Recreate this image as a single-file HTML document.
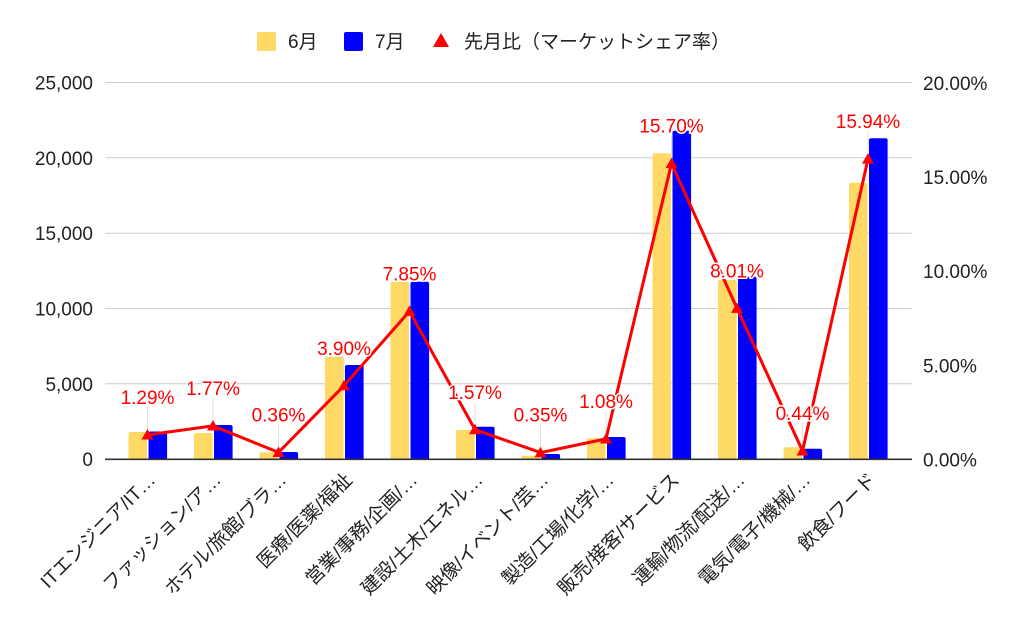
<!DOCTYPE html>
<html>
<head>
<meta charset="utf-8">
<style>
  html, body { margin:0; padding:0; background:#fff; }
  svg { display:block; }
  text { font-family: "Liberation Sans", "Noto Sans CJK JP", sans-serif; }
</style>
</head>
<body>
<svg width="1024" height="633" viewBox="0 0 1024 633" xmlns="http://www.w3.org/2000/svg">
  <rect x="0" y="0" width="1024" height="633" fill="#fff"/>

  <!-- Legend -->
  <rect x="257" y="32" width="19" height="19" rx="2" fill="#ffd966"/>
  <text x="288" y="48" font-size="19" fill="#222">6月</text>
  <rect x="344" y="32" width="19" height="19" rx="2" fill="#0000ff"/>
  <text x="375" y="48" font-size="19" fill="#222">7月</text>
  <polygon points="433,47 449,47 441,33" fill="#ff0000"/>
  <text x="464" y="48" font-size="19" fill="#222">先月比（マーケットシェア率）</text>

  <!-- Gridlines -->
  <g stroke="#cccccc" stroke-width="1">
    <line x1="105" y1="82.5" x2="912" y2="82.5"/>
    <line x1="105" y1="157.8" x2="912" y2="157.8"/>
    <line x1="105" y1="233.2" x2="912" y2="233.2"/>
    <line x1="105" y1="308.5" x2="912" y2="308.5"/>
    <line x1="105" y1="383.8" x2="912" y2="383.8"/>
  </g>

  <!-- Left axis labels -->
  <g font-size="19" fill="#222" text-anchor="end">
    <text x="93" y="89.5">25,000</text>
    <text x="93" y="164.8">20,000</text>
    <text x="93" y="240.2">15,000</text>
    <text x="93" y="315.5">10,000</text>
    <text x="93" y="390.8">5,000</text>
    <text x="93" y="466.2">0</text>
  </g>

  <!-- Right axis labels -->
  <g font-size="19" fill="#222">
    <text x="923" y="90">20.00%</text>
    <text x="923" y="184.1">15.00%</text>
    <text x="923" y="278.2">10.00%</text>
    <text x="923" y="372.3">5.00%</text>
    <text x="923" y="466.4">0.00%</text>
  </g>

  <!-- Bars -->
  <defs>
    <clipPath id="plot"><rect x="100" y="60" width="820" height="399.3"/></clipPath>
  </defs>
  <g clip-path="url(#plot)">
    <g fill="#ffd966">
      <rect x="128.5" y="432" width="18.6" height="40" rx="2"/>
      <rect x="194" y="433" width="18.6" height="40" rx="2"/>
      <rect x="259.5" y="452.3" width="18.6" height="20" rx="2"/>
      <rect x="325" y="356.7" width="18.6" height="120" rx="2"/>
      <rect x="390.5" y="281.7" width="18.6" height="190" rx="2"/>
      <rect x="456" y="430" width="18.6" height="40" rx="2"/>
      <rect x="521.5" y="455.7" width="18.6" height="20" rx="2"/>
      <rect x="587" y="438.3" width="18.6" height="40" rx="2"/>
      <rect x="652.5" y="153.3" width="18.6" height="320" rx="2"/>
      <rect x="718" y="280" width="18.6" height="190" rx="2"/>
      <rect x="783.5" y="447.3" width="18.6" height="20" rx="2"/>
      <rect x="849" y="182.7" width="18.6" height="290" rx="2"/>
    </g>
    <g fill="#0000ff">
      <rect x="148.5" y="431.5" width="18.6" height="40" rx="2"/>
      <rect x="214" y="425" width="18.6" height="40" rx="2"/>
      <rect x="279.5" y="452" width="18.6" height="20" rx="2"/>
      <rect x="345" y="365" width="18.6" height="110" rx="2"/>
      <rect x="410.5" y="281.7" width="18.6" height="190" rx="2"/>
      <rect x="476" y="426.7" width="18.6" height="40" rx="2"/>
      <rect x="541.5" y="454" width="18.6" height="20" rx="2"/>
      <rect x="607" y="437" width="18.6" height="40" rx="2"/>
      <rect x="672.5" y="130.7" width="18.6" height="340" rx="2"/>
      <rect x="738" y="276.7" width="18.6" height="190" rx="2"/>
      <rect x="803.5" y="448.7" width="18.6" height="20" rx="2"/>
      <rect x="869" y="138.3" width="18.6" height="330" rx="2"/>
    </g>
  </g>

  <!-- Axis baseline -->
  <line x1="105" y1="459.3" x2="912" y2="459.3" stroke="#333" stroke-width="1.6"/>

  <!-- Leader lines -->
  <g stroke="#e2e2e2" stroke-width="1">
    <line x1="147.5" y1="407" x2="147.5" y2="430"/>
    <line x1="213" y1="398" x2="213" y2="421"/>
    <line x1="278.5" y1="424" x2="278.5" y2="447"/>
    <line x1="344" y1="358" x2="344" y2="381"/>
    <line x1="409.5" y1="283" x2="409.5" y2="306"/>
    <line x1="475" y1="402" x2="475" y2="425"/>
    <line x1="540.5" y1="425" x2="540.5" y2="448"/>
    <line x1="606" y1="411" x2="606" y2="434"/>
    <line x1="671.5" y1="136" x2="671.5" y2="159"/>
    <line x1="737" y1="281" x2="737" y2="304"/>
    <line x1="802.5" y1="423" x2="802.5" y2="446"/>
    <line x1="868" y1="131" x2="868" y2="154"/>
  </g>

  <!-- Line series -->
  <polyline fill="none" stroke="#ff0000" stroke-width="3" stroke-linejoin="round"
    points="147.5,434.9 213,425.9 278.5,452.4 344,385.7 409.5,311.3 475,429.6 540.5,452.6 606,438.9 671.5,163.5 737,308.3 802.5,450.9 868,159"/>
  <g fill="#ff0000">
    <polygon points="141.5,439.5 153.5,439.5 147.5,429"/>
    <polygon points="207,430.5 219,430.5 213,420"/>
    <polygon points="272.5,457 284.5,457 278.5,446.5"/>
    <polygon points="338,390.3 350,390.3 344,379.8"/>
    <polygon points="403.5,315.9 415.5,315.9 409.5,305.4"/>
    <polygon points="469,434.2 481,434.2 475,423.7"/>
    <polygon points="534.5,457.2 546.5,457.2 540.5,446.7"/>
    <polygon points="600,443.5 612,443.5 606,433"/>
    <polygon points="665.5,168.1 677.5,168.1 671.5,157.6"/>
    <polygon points="731,312.9 743,312.9 737,302.4"/>
    <polygon points="796.5,455.5 808.5,455.5 802.5,445"/>
    <polygon points="862,163.6 874,163.6 868,153.1"/>
  </g>

  <!-- Data labels -->
  <g font-size="19" fill="#ff0000" text-anchor="middle" stroke="#ffffff" stroke-width="3" paint-order="stroke" stroke-linejoin="round">
    <text x="147.5" y="404">1.29%</text>
    <text x="213" y="395">1.77%</text>
    <text x="278.5" y="421.5">0.36%</text>
    <text x="344" y="355">3.90%</text>
    <text x="409.5" y="280.5">7.85%</text>
    <text x="475" y="399">1.57%</text>
    <text x="540.5" y="421.7">0.35%</text>
    <text x="606" y="408">1.08%</text>
    <text x="671.5" y="132.6">15.70%</text>
    <text x="737" y="277.5">8.01%</text>
    <text x="802.5" y="420">0.44%</text>
    <text x="868" y="128.2">15.94%</text>
  </g>

  <!-- X axis labels -->
  <g font-size="19" fill="#222" text-anchor="end">
    <text transform="translate(156.5,481) rotate(-45)">ITエンジニア/IT…</text>
    <text transform="translate(222,481) rotate(-45)">ファッション/ア…</text>
    <text transform="translate(287.5,481) rotate(-45)">ホテル/旅館/ブラ…</text>
    <text transform="translate(353,481) rotate(-45)">医療/医薬/福祉</text>
    <text transform="translate(418.5,481) rotate(-45)">営業/事務/企画/…</text>
    <text transform="translate(484,481) rotate(-45)">建設/土木/エネル…</text>
    <text transform="translate(549.5,481) rotate(-45)">映像/イベント/芸…</text>
    <text transform="translate(615,481) rotate(-45)">製造/工場/化学/…</text>
    <text transform="translate(680.5,481) rotate(-45)">販売/接客/サービス</text>
    <text transform="translate(746,481) rotate(-45)">運輸/物流/配送/…</text>
    <text transform="translate(811.5,481) rotate(-45)">電気/電子/機械/…</text>
    <text transform="translate(877,481) rotate(-45)">飲食/フード</text>
  </g>
</svg>
</body>
</html>
